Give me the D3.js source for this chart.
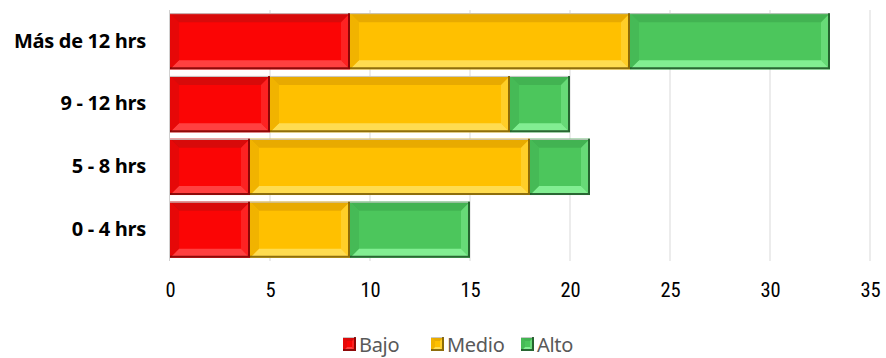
<!DOCTYPE html>
<html><head><meta charset="utf-8">
<script src="https://cdn.jsdelivr.net/npm/d3@7"></script>
<style>body{margin:0;background:#fff;}svg{display:block;}</style>
</head><body><div id="chart"></div>
<script>
const categories = ["Más de 12 hrs", "9 - 12 hrs", "5 - 8 hrs", "0 - 4 hrs"];
const seriesNames = ["Bajo", "Medio", "Alto"];
const bajo  = [9, 5, 4, 4];
const medio = [14, 12, 14, 5];
const alto  = [10, 3, 3, 6];
const xTicks = [0, 5, 10, 15, 20, 25, 30, 35];

const colors = {
  Bajo:  {base:"#fb0505", light:"#ff4040", dark:"#d80a0a", edge:"#7a0000"},
  Medio: {base:"#ffc000", light:"#ffdc50", dark:"#e8aa00", edge:"#7a5a00"},
  Alto:  {base:"#4cc65c", light:"#82ee92", dark:"#42b352", edge:"#1a4f22"}
};

const W = 886, H = 358;
const m = {left:170, top:10, bottom:97};
const svg = d3.select("#chart").append("svg").attr("width", W).attr("height", H);

const x = d3.scaleLinear().domain([0, 35]).range([m.left, m.left + 700]);
const y = d3.scaleBand().domain(categories).range([m.top, H - m.bottom]).paddingInner(0.105).paddingOuter(0.05);

// gridlines
svg.append("g").selectAll("line").data(xTicks.slice(1)).join("line")
  .attr("x1", d => x(d)).attr("x2", d => x(d))
  .attr("y1", m.top).attr("y2", H - m.bottom)
  .attr("stroke", "#d9d9d9").attr("stroke-width", 1);
svg.append("line").attr("x1", x(0) - 0.5).attr("x2", x(0) - 0.5).attr("y1", m.top).attr("y2", H - m.bottom)
  .attr("stroke", "#d0d0d0");

const values = {Bajo: bajo, Medio: medio, Alto: alto};
const rows = categories.map((c, i) => {
  const r = {cat: c};
  seriesNames.forEach(s => r[s] = values[s][i]);
  return r;
});
const stack = d3.stack().keys(seriesNames)(rows);

function bevelRect(g, x0, y0, w, h, col, b) {
  const x1 = x0 + w, y1 = y0 + h;
  b = Math.min(b, w / 2, h / 2);
  g.append("rect").attr("x", x0).attr("y", y0).attr("width", w).attr("height", h).attr("fill", col.base);
  g.append("path").attr("d", `M${x0},${y0}L${x1},${y0}L${x1-b},${y0+b}L${x0+b},${y0+b}Z`).attr("fill", col.dark);
  g.append("path").attr("d", `M${x0},${y1}L${x1},${y1}L${x1-b},${y1-b}L${x0+b},${y1-b}Z`).attr("fill", col.light);
  g.append("path").attr("d", `M${x0},${y0}L${x0+b},${y0+b}L${x0+b},${y1-b}L${x0},${y1}Z`).attr("fill", col.dark).attr("opacity", 0.6);
  g.append("path").attr("d", `M${x1},${y0}L${x1-b},${y0+b}L${x1-b},${y1-b}L${x1},${y1}Z`).attr("fill", col.light).attr("opacity", 0.5);
  g.append("line").attr("x1", x0).attr("x2", x1).attr("y1", y0 + 0.5).attr("y2", y0 + 0.5)
    .attr("stroke", "#c8c8c8").attr("stroke-width", 1);
  g.append("path").attr("d", `M${x0},${y1-1}L${x1-1},${y1-1}L${x1-1},${y0}`).attr("fill", "none")
    .attr("stroke", col.edge).attr("stroke-width", 2).attr("opacity", 0.85);
}

const barsG = svg.append("g");
stack.forEach(layer => {
  const col = colors[layer.key];
  layer.forEach(d => {
    const g = barsG.append("g");
    bevelRect(g, x(d[0]), y(d.data.cat), x(d[1]) - x(d[0]), y.bandwidth(), col, 9);
  });
});

// x axis
const xAxis = svg.append("g").attr("transform", `translate(0,${H - m.bottom})`)
  .call(d3.axisBottom(x).tickValues(xTicks).tickSize(0).tickPadding(21));
xAxis.select(".domain").remove();
xAxis.selectAll("text").attr("font-family", "'Roboto Condensed', 'Liberation Sans Narrow', sans-serif")
  .attr("font-size", 20.5).attr("fill", "#000");

// y axis
const yAxis = svg.append("g").attr("transform", `translate(${m.left},0)`)
  .call(d3.axisLeft(y).tickSize(0).tickPadding(24));
yAxis.select(".domain").remove();
yAxis.selectAll("text").attr("font-family", "'Open Sans', 'Noto Sans', sans-serif")
  .attr("font-size", 20).attr("font-weight", "bold").attr("fill", "#000").attr("letter-spacing", "-0.3px");

// legend
const legendItems = [{k:"Bajo", x:343}, {k:"Medio", x:431}, {k:"Alto", x:521}];
const lg = svg.append("g");
legendItems.forEach(it => {
  const g = lg.append("g");
  bevelRect(g, it.x, 337, 13, 14, colors[it.k], 4);
  g.append("text").attr("x", it.x + 16).attr("y", 352).text(it.k)
    .attr("font-family", "'Noto Sans', 'Open Sans', sans-serif")
    .attr("font-size", 20).attr("letter-spacing", "-0.3px").attr("fill", "#595959");
});
</script></body></html>
